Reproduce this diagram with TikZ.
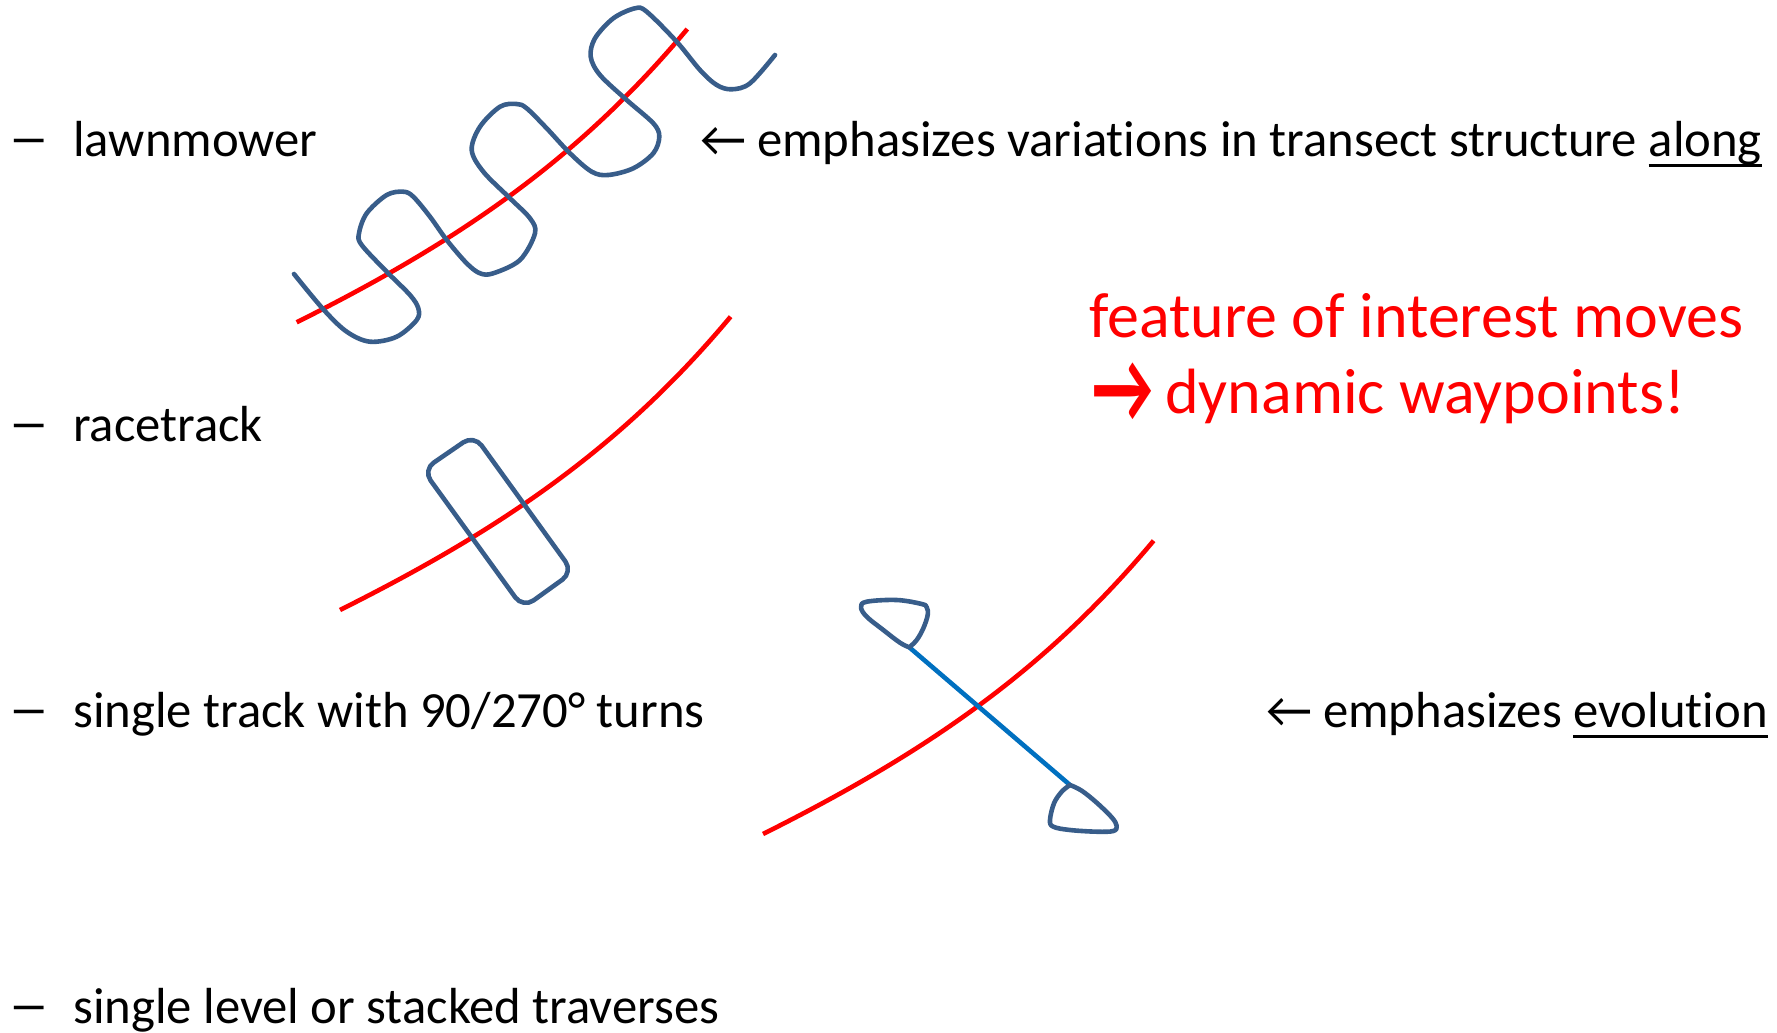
\documentclass[tikz,border=0pt]{standalone}
\usepackage{graphicx}
\usepackage{fontspec}
\setmainfont[Ligatures=NoCommon]{Carlito}
\definecolor{trackblue}{RGB}{56,93,138}
\definecolor{lineblue}{RGB}{0,112,192}
\newcommand\myul[1]{\setbox0=\hbox{#1}\rlap{\rule[-11pt]{\wd0}{3pt}}\box0}
\newcommand\mydash{\makebox[60pt][l]{\hspace{-5pt}\scalebox{1.64}[1.1]{–}}}
\begin{document}
\begin{tikzpicture}[x=1pt,y=-1pt,
  feature/.style={red, line width=4.6pt},
  trackline/.style={trackblue, line width=4.6pt, line join=round, line cap=round},
  crossline/.style={lineblue, line width=4.6pt},
  txt/.style={anchor=base west, inner sep=0pt, font=\fontsize{50.7}{60}\selectfont},
  redtxt/.style={anchor=base west, inner sep=0pt, text=red, font=\fontsize{64}{75}\selectfont},
  featurecurve/.pic={\draw[feature] (0,0) .. controls (160,-80) and (280,-161) .. (390.6,-293.3);}]
\useasboundingbox (0,0) rectangle (1777,1033);

% texts
\node[txt] (b1) at (13,156) {\mydash lawnmower};
\node[txt] (b2) at (13,441) {\mydash racetrack};
\node[txt] (b3) at (13,727) {\mydash single track with 90/270° turns};
\node[txt] (b4) at (13,1023) {\mydash single level or stacked traverses};
\node[txt] (c1) at (700,156) {\makebox[57pt][l]{←}emphasizes variations in transect structure \myul{along}};
\node[txt] (c2) at (1266,727) {\makebox[57pt][l]{←}emphasizes \myul{evolution}};
\node[redtxt] (f1) at (1089,337) {feature of interest moves};
\node[redtxt] (f2) at (1092,413) {\makebox[73pt][l]{\raisebox{-9pt}{\scalebox{1.05}[1.6]{\bfseries →}}}dynamic waypoints!};

% features
\pic at (296.7,322.3) {featurecurve};
\pic at (340,610) {featurecurve};
\pic at (763,834) {featurecurve};

% lawnmower track
\draw[trackline] plot[smooth, tension=0.55] coordinates {
 (294,274) (323.3,309.3) (346.7,331.7) (370,341.7) (396.7,336.7) (416.7,320)
 (418.3,308.3) (410,295) (386.7,271.7) (361.7,245) (359,233.3) (366.7,213.3)
 (386.7,195) (403.3,191.7) (413.3,196.7) (430,216.7) (446.7,240) (466.7,263.3)
 (480,273.3) (493.3,273.3) (520,260) (535,233.3) (530,218.3) (510,198.3)
 (483.3,171.7) (471.7,150) (480,126.7) (500,106.7) (516.7,104) (526.7,108.3)
 (546.7,128.3) (570,153.3) (591.7,171.7) (608.3,175) (633.3,168.3) (653.3,153.3)
 (659.3,136.7) (653.3,123.3) (626.7,100) (600,75) (590.7,56.7) (595,38.3)
 (613.3,18.3) (635,8.3) (646.7,11.7) (676.7,41.7) (700,70) (716.7,85)
 (731.7,89.3) (750,83.3) (775,55)};

% racetrack
\draw[trackline, rounded corners=13pt] (474,435) -- (573,572) -- (523,608) -- (423,470) -- cycle;

% single track with turns
\coordinate (j1) at (909.3,647.3);
\coordinate (j2) at (1070,785);
\draw[crossline] (j1) -- (j2);
\draw[trackline] plot[smooth, tension=0.6] coordinates {
 (909.3,647.3) (916.7,640) (923.3,628.3) (927.7,615) (926.7,607.3) (921.7,604)
 (896.7,600) (866.7,601.7) (861,607.3) (866.7,616.7) (883.3,630) (900,642.7) (909.3,647.3)};
\draw[trackline] plot[smooth, tension=0.6] coordinates {
 (1070,785) (1061.7,791.7) (1054,803.3) (1050,820) (1053.3,826.7) (1070,830)
 (1096.7,831.7) (1113.3,831) (1116.7,826) (1111.7,817.3) (1096.7,802.7) (1081.7,790.7) (1070,785)};
\end{tikzpicture}
\end{document}
